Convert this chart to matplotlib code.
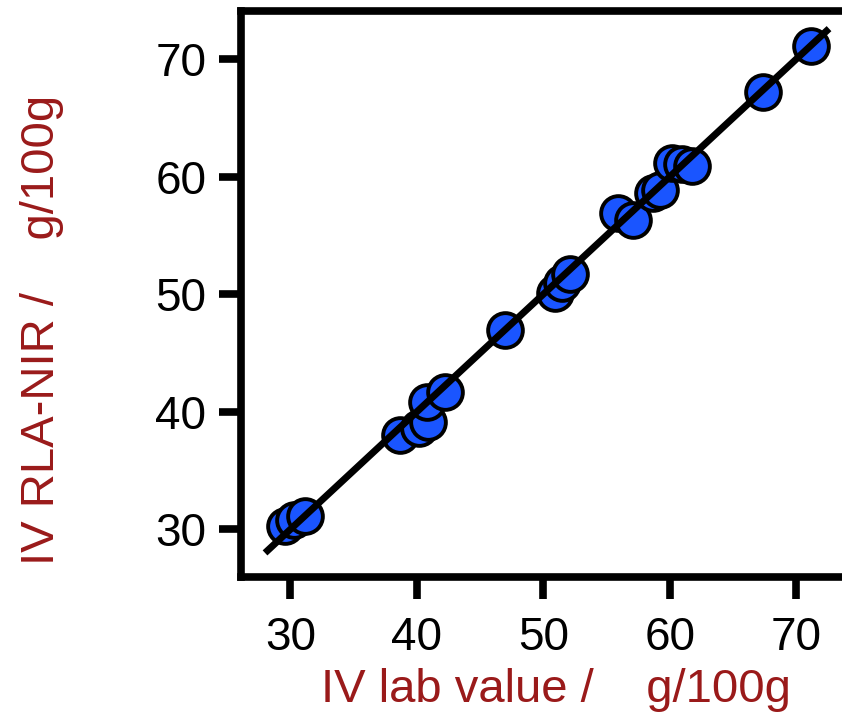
import numpy as np
import matplotlib.pyplot as plt

plt.rcParams['font.family'] = ['Liberation Sans', 'DejaVu Sans']

# Lab reference values vs RLA-NIR predictions (IV, g/100g)
lab_value = [29.6, 30.3, 31.2, 38.7, 40.2, 40.9, 40.8, 42.2, 47.0,
             50.9, 51.5, 52.1, 55.9, 57.1, 58.7, 59.2, 60.2, 61.0,
             61.8, 67.4, 71.2]
nir_value = [30.3, 30.8, 31.1, 38.0, 38.6, 39.1, 40.8, 41.7, 47.0,
             50.1, 51.0, 51.7, 56.9, 56.3, 58.6, 58.9, 61.2, 61.1,
             60.9, 67.2, 71.1]

# Regression line ends
fit_x = [28.0, 72.6]
fit_y = [28.0, 72.6]

xticks = [30, 40, 50, 60, 70]
yticks = [30, 40, 50, 60, 70]

label_red = '#9a1a1a'
point_blue = '#1a55ff'

fig = plt.figure(figsize=(8.42, 7.28), dpi=100)
ax = fig.add_axes([241 / 842, 151 / 728, 607 / 842, 566 / 728])

ax.plot(lab_value, nir_value, linestyle='none', marker='o', markersize=25,
        markerfacecolor=point_blue, markeredgecolor='black', markeredgewidth=2.8,
        zorder=3)
ax.plot(fit_x, fit_y, color='black', linewidth=5, solid_capstyle='butt', zorder=4)

ax.set_xlim(26.1, 74.1)
ax.set_ylim(25.95, 74.1)
ax.set_xticks(xticks)
ax.set_yticks(yticks)

for side in ['left', 'bottom', 'top', 'right']:
    ax.spines[side].set_linewidth(5.5)
ax.tick_params(axis='both', direction='out', length=16, width=5.5,
               labelsize=33, pad=9, colors='black')
ax.tick_params(axis='x', pad=12)
ax.tick_params(top=False, right=False)

ax.set_xlabel('IV lab value /    g/100g', fontsize=34, color=label_red)
ax.set_ylabel('IV RLA-NIR /    g/100g', fontsize=34, color=label_red)
ax.xaxis.set_label_coords((556 - 241) / 607, (577 - 690) / 566)
ax.xaxis.label.set_va('center')
ax.yaxis.set_label_coords((42 - 241) / 607, (577 - 330) / 566)
ax.yaxis.label.set_va('center')

fig.savefig('out.png', dpi=100)
